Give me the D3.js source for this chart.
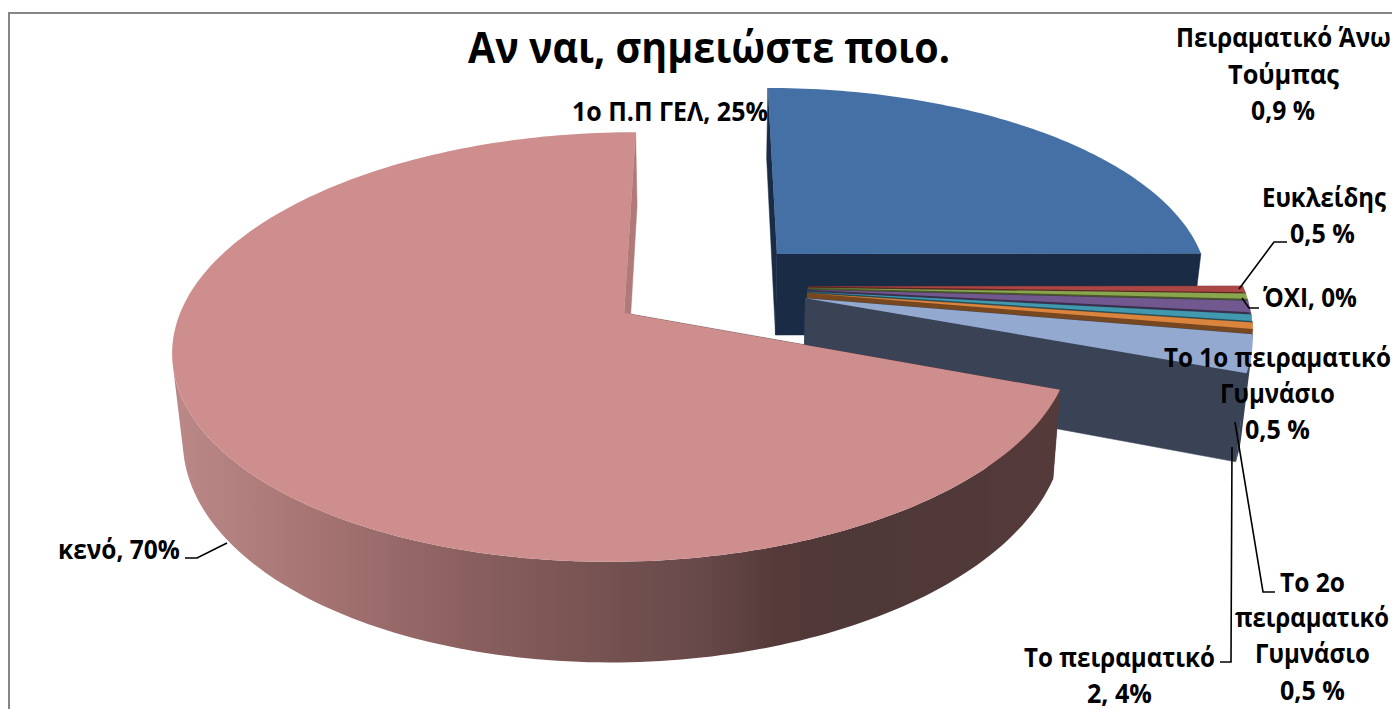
<!DOCTYPE html>
<html lang="el"><head><meta charset="utf-8">
<script src="https://cdn.jsdelivr.net/npm/d3@7/dist/d3.min.js"></script>
<style>html,body{margin:0;padding:0;background:#fff;overflow:hidden}svg{display:block}</style>
</head><body><svg id="c" width="1392" height="709"></svg>
<script>
const categories = ["1ο Π.Π ΓΕΛ","Ευκλείδης","ΌΧΙ","Πειραματικό Άνω Τούμπας","Το 2ο πειραματικό Γυμνάσιο","Το 1ο πειραματικό Γυμνάσιο","Το πειραματικό 2","κενό"];
const values = [25,0.5,0.4,0.9,0.5,0.5,2.9,69.5];
const topColors = ["#4570a5","#aa4643","#89a54e","#71588f","#4198af","#db843d","#93a9cf","#ce8e8d"];
const sideColors = ["#1a2c45","#5c2423","#4a592a","#3d2f4d","#23525f","#774720","#3a4356","#b07a79"];
const titleText = "Αν ναι, σημειώστε ποιο.";
// text, left, right, baseline
const labelLines = [
 ["Πειραματικό Άνω",1176,1391,47],["Τούμπας",1228,1339,84],["0,9 %",1251,1315,120],
 ["Ευκλείδης",1262,1386,207],["0,5 %",1290,1355,243],
 ["ΌΧΙ, 0%",1263,1357,307],
 ["Το 1ο πειραματικό",1164,1391,367],["Γυμνάσιο",1220,1335,403],["0,5 %",1245,1310,439],
 ["Το 2ο",1280,1345,592],["πειραματικό",1235,1389,627],["Γυμνάσιο",1255,1370,663],["0,5 %",1280,1345,700],
 ["Το πειραματικό",1024,1215,667],["2, 4%",1087,1152,703],
 ["κενό, 70%",58,180,559],
 ["1ο Π.Π ΓΕΛ, 25%",572,768,121]
];
const leaders = [
 [[1239,289],[1274,242],[1287,242]],
 [[1242,298],[1249,308],[1259,308]],
 [[1235,422],[1263,592],[1275,592]],
 [[1232,447],[1231,662],[1220,662]],
 [[227,543],[197,558],[185,558]]
];
const sideStops = [[172,"#bb8988"],[300,"#a87675"],[450,"#8d6261"],[560,"#7c5655"],[700,"#68494a"],[780,"#543938"],[860,"#4e3838"],[1060,"#553a3a"]];

// projection of the pie plane
const cx=708, cy=286, R=435, Ry=201, persp=0.155, depth=83, conv=0.02, explode=0.23;
function project(u,v,down){
  const w=1+persp*v;
  let x=cx+R*u/w, y=cy-Ry*v/w;
  if(down){ x=cx+(x-cx)*(1-conv); y+=depth/w; }
  return [x,y];
}
const svg=d3.select("#c");
const pie=d3.pie().sort(null).startAngle(0).endAngle(2*Math.PI);
const arcs=pie(values);
const line=d3.line();

const defs=svg.append("defs");
const grad=defs.append("linearGradient").attr("id","pinkSide").attr("gradientUnits","userSpaceOnUse")
  .attr("x1",sideStops[0][0]).attr("x2",sideStops[sideStops.length-1][0]).attr("y1",0).attr("y2",0);
const x0=sideStops[0][0], xs=sideStops[sideStops.length-1][0]-x0;
sideStops.forEach(s=>grad.append("stop").attr("offset",(s[0]-x0)/xs).attr("stop-color",s[1]));

function geom(a){
  const mid=(a.startAngle+a.endAngle)/2;
  const ox=explode*Math.sin(mid), oy=explode*Math.cos(mid);
  const n=Math.max(2,Math.ceil((a.endAngle-a.startAngle)/0.02));
  const rim=d3.range(n+1).map(i=>{
    const t=a.startAngle+(a.endAngle-a.startAngle)*i/n;
    return [ox+Math.sin(t),oy+Math.cos(t)];
  });
  return {c:[ox,oy],rim};
}
const g=svg.append("g");
arcs.forEach((a,i)=>{
  const {c,rim}=geom(a);
  const P=(p,d)=>project(p[0],p[1],d);
  const side=i===7?"url(#pinkSide)":sideColors[i];
  // cut faces
  [rim[0],rim[rim.length-1]].forEach((e,k)=>{
    const col=(i===7)?(k===1?sideColors[7]:"#553a3a"):sideColors[i];
    const seg=[P(c,false),P(e,false),P(e,true),P(c,true)];
    g.append("path").attr("d",line(seg)+"Z").attr("fill",col).attr("stroke",col).attr("stroke-width",.5);
  });
  // rim wall: only the strips that face the viewer
  let wall="";
  for(let k=0;k<rim.length-1;k++){
    const q=[P(rim[k],false),P(rim[k+1],false),P(rim[k+1],true),P(rim[k],true)];
    if(d3.polygonArea(q)>0) wall+=line(q)+"Z";
  }
  if(wall) g.append("path").attr("d",wall).attr("fill",side);
  // top face
  const top=[P(c,false)].concat(rim.map(p=>P(p,false)));
  g.append("path").attr("class","slice").attr("d",line(top)+"Z").attr("fill",topColors[i]).attr("data-name",categories[i]);
});

// frame
svg.append("path").attr("d","M9,709V13H1392").attr("fill","none").attr("stroke","#868686").attr("stroke-width",2);

// leaders
leaders.forEach(l=>svg.append("path").attr("d",line(l)).attr("fill","none").attr("stroke","#000").attr("stroke-width",1.6));

const font="'Open Sans','Noto Sans',sans-serif";
function fitted(str,left,right,base,size){
  const t=svg.append("text").text(str).attr("font-family",font).attr("font-weight",700).attr("font-size",size).attr("fill","#000");
  const sx=(right-left)/t.node().getComputedTextLength();
  t.attr("transform",`translate(${left},${base}) scale(${sx},1)`);
}
fitted(titleText,468,950,63,43);
labelLines.forEach(l=>fitted(l[0],l[1],l[2],l[3],26));
</script></body></html>
